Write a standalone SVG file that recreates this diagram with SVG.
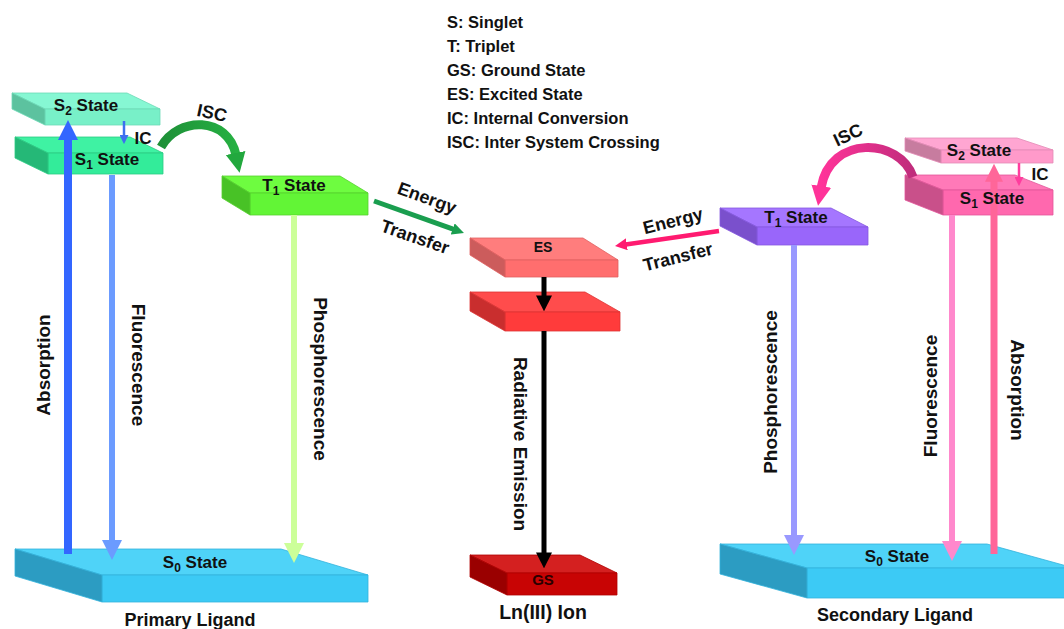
<svg xmlns="http://www.w3.org/2000/svg" width="1064" height="629" viewBox="0 0 1064 629">
<style>
text{font-family:"Liberation Sans",Arial,sans-serif;font-weight:bold;fill:#111}
.st{font-size:17px}
.sub{font-size:12px}
.lg{font-size:16.5px}
.vl{font-size:19px}
.et{font-size:18px}
.ft{font-size:18px}
.ed{stroke-width:0.8;stroke-linejoin:round}
</style>
<defs>
<marker id="hAbsL" viewBox="0 0 10 10" refX="1" refY="5" markerWidth="20" markerHeight="20" markerUnits="userSpaceOnUse" orient="auto"><path d="M0,0L10,5L0,10z" fill="#3366FF"/></marker>
<marker id="hFluL" viewBox="0 0 10 10" refX="1" refY="5" markerWidth="20" markerHeight="20" markerUnits="userSpaceOnUse" orient="auto"><path d="M0,0L10,5L0,10z" fill="#6B9BFF"/></marker>
<marker id="hPhoL" viewBox="0 0 10 10" refX="1" refY="5" markerWidth="20" markerHeight="20" markerUnits="userSpaceOnUse" orient="auto"><path d="M0,0L10,5L0,10z" fill="#CCFF99"/></marker>
<marker id="hICL" viewBox="0 0 10 10" refX="1" refY="5" markerWidth="9" markerHeight="9" markerUnits="userSpaceOnUse" orient="auto"><path d="M0,0L10,5L0,10z" fill="#3D6FEF"/></marker>
<marker id="hISCL" viewBox="0 0 10 10" refX="1" refY="5" markerWidth="20" markerHeight="22" markerUnits="userSpaceOnUse" orient="auto"><path d="M0,0L10,5L0,10z" fill="#22A83E"/></marker>
<marker id="hETL" viewBox="0 0 10 10" refX="1" refY="5" markerWidth="12" markerHeight="12" markerUnits="userSpaceOnUse" orient="auto"><path d="M0,0L10,5L0,10z" fill="#1A9E4F"/></marker>
<marker id="hBlk" viewBox="0 0 10 10" refX="1" refY="5" markerWidth="16" markerHeight="16" markerUnits="userSpaceOnUse" orient="auto"><path d="M0,0L10,5L0,10z" fill="#000"/></marker>
<marker id="hETR" viewBox="0 0 10 10" refX="1" refY="5" markerWidth="12" markerHeight="12" markerUnits="userSpaceOnUse" orient="auto"><path d="M0,0L10,5L0,10z" fill="#FF1A70"/></marker>
<marker id="hISCR" viewBox="0 0 10 10" refX="1" refY="5" markerWidth="20" markerHeight="22" markerUnits="userSpaceOnUse" orient="auto"><path d="M0,0L10,5L0,10z" fill="#FF3399"/></marker>
<marker id="hICR" viewBox="0 0 10 10" refX="1" refY="5" markerWidth="9" markerHeight="9" markerUnits="userSpaceOnUse" orient="auto"><path d="M0,0L10,5L0,10z" fill="#FF3D9E"/></marker>
<marker id="hPhoR" viewBox="0 0 10 10" refX="1" refY="5" markerWidth="20" markerHeight="20" markerUnits="userSpaceOnUse" orient="auto"><path d="M0,0L10,5L0,10z" fill="#9999FF"/></marker>
<marker id="hFluR" viewBox="0 0 10 10" refX="1" refY="5" markerWidth="20" markerHeight="20" markerUnits="userSpaceOnUse" orient="auto"><path d="M0,0L10,5L0,10z" fill="#FF88CC"/></marker>
<marker id="hAbsR" viewBox="0 0 10 10" refX="1" refY="5" markerWidth="18" markerHeight="18" markerUnits="userSpaceOnUse" orient="auto"><path d="M0,0L10,5L0,10z" fill="#FF6699"/></marker>
<linearGradient id="gISCR" x1="1" y1="0" x2="0" y2="0"><stop offset="0" stop-color="#C02C7C"/><stop offset="1" stop-color="#FF3399"/></linearGradient>
<linearGradient id="gISCL" x1="0" y1="0" x2="1" y2="0"><stop offset="0" stop-color="#1E9038"/><stop offset="1" stop-color="#26B042"/></linearGradient>
</defs>
<rect width="1064" height="629" fill="#fff"/>

<!-- nodes -->
<g id="S2-left">
<polygon class="ed" points="12,93 127,93 160,109 45,109" fill="#86F7D3" stroke="#6CD9B6"/>
<rect class="ed" x="45" y="109" width="115" height="16" fill="#78F0C8" stroke="#6CD9B6"/>
<polygon class="ed" points="12,93 45,109 45,125 12,109" fill="#5CC29F" stroke="#6CD9B6"/>
<text class="st" x="86" y="111" text-anchor="middle">S<tspan class="sub" dy="4">2</tspan><tspan dy="-4"> State</tspan></text>
</g>
<g id="S1-left">
<polygon class="ed" points="15,137 130,137 163,153 48,153" fill="#3FF2A3" stroke="#2CCB84"/>
<rect class="ed" x="48" y="153" width="115" height="21" fill="#33EC9A" stroke="#2CCB84"/>
<polygon class="ed" points="15,137 48,153 48,174 15,158" fill="#25B877" stroke="#2CCB84"/>
<text class="st" x="107" y="165" text-anchor="middle">S<tspan class="sub" dy="4">1</tspan><tspan dy="-4"> State</tspan></text>
</g>
<g id="T1-left">
<polygon class="ed" points="222,176 340,176 368,193 250,193" fill="#6EFC40" stroke="#55D02E"/>
<rect class="ed" x="250" y="193" width="118" height="22" fill="#62F536" stroke="#55D02E"/>
<polygon class="ed" points="222,176 250,193 250,215 222,198" fill="#48C226" stroke="#55D02E"/>
<text class="st" x="294" y="191" text-anchor="middle">T<tspan class="sub" dy="4">1</tspan><tspan dy="-4"> State</tspan></text>
</g>
<g id="ES">
<polygon class="ed" points="470,238 583,238 618,260 505,260" fill="#FF7D7D" stroke="#E06060"/>
<rect class="ed" x="505" y="260" width="113" height="17" fill="#FF6E6E" stroke="#E06060"/>
<polygon class="ed" points="470,238 505,260 505,277 470,255" fill="#CC5C5C" stroke="#E06060"/>
<text x="543" y="252" text-anchor="middle" font-size="14">ES</text>
</g>
<g id="intermediate">
<polygon class="ed" points="470,292 585,292 620,312 505,312" fill="#FF4C4C" stroke="#DD3434"/>
<rect class="ed" x="505" y="312" width="115" height="19" fill="#FF3B3B" stroke="#DD3434"/>
<polygon class="ed" points="470,292 505,312 505,331 470,311" fill="#C92E2E" stroke="#DD3434"/>
</g>
<g id="GS">
<polygon class="ed" points="470,555 580,555 617,573 507,573" fill="#D42020" stroke="#B00000"/>
<rect class="ed" x="507" y="573" width="110" height="22" fill="#C80404" stroke="#B00000"/>
<polygon class="ed" points="470,555 507,573 507,595 470,577" fill="#9A0000" stroke="#B00000"/>
<text x="543" y="585" text-anchor="middle" font-size="15" style="fill:#2a0000">GS</text>
</g>
<g id="S0-left">
<polygon class="ed" points="15,549 281,549 368,575 102,575" fill="#4FD3F8" stroke="#32B2DC"/>
<rect class="ed" x="102" y="575" width="266" height="27" fill="#3CCAF5" stroke="#32B2DC"/>
<polygon class="ed" points="15,549 102,575 102,602 15,576" fill="#2C9CC2" stroke="#32B2DC"/>
<text class="st" x="195" y="568" text-anchor="middle">S<tspan class="sub" dy="4">0</tspan><tspan dy="-4"> State</tspan></text>
</g>
<g id="S0-right">
<polygon class="ed" points="720,544 987,544 1074,568 807,568" fill="#4FD3F8" stroke="#32B2DC"/>
<rect class="ed" x="807" y="568" width="267" height="30" fill="#3CCAF5" stroke="#32B2DC"/>
<polygon class="ed" points="720,544 807,568 807,598 720,574" fill="#2C9CC2" stroke="#32B2DC"/>
<text class="st" x="897" y="562" text-anchor="middle">S<tspan class="sub" dy="4">0</tspan><tspan dy="-4"> State</tspan></text>
</g>
<g id="T1-right">
<polygon class="ed" points="720,208 831,208 868,227 757,227" fill="#A576FF" stroke="#8558E0"/>
<rect class="ed" x="757" y="227" width="111" height="18" fill="#9966FA" stroke="#8558E0"/>
<polygon class="ed" points="720,208 757,227 757,245 720,226" fill="#7A50CC" stroke="#8558E0"/>
<text class="st" x="796" y="223" text-anchor="middle">T<tspan class="sub" dy="4">1</tspan><tspan dy="-4"> State</tspan></text>
</g>
<g id="S2-right">
<polygon class="ed" points="905,138 1017,138 1053,150 941,150" fill="#FFA6D2" stroke="#E38AB6"/>
<rect class="ed" x="941" y="150" width="112" height="13" fill="#FF9ACA" stroke="#E38AB6"/>
<polygon class="ed" points="905,138 941,150 941,163 905,151" fill="#C77C9F" stroke="#E38AB6"/>
<text class="st" x="979" y="156" text-anchor="middle">S<tspan class="sub" dy="4">2</tspan><tspan dy="-4"> State</tspan></text>
</g>
<g id="S1-right">
<polygon class="ed" points="905,175 1015,175 1053,190 943,190" fill="#FF79B8" stroke="#E2579A"/>
<rect class="ed" x="943" y="190" width="110" height="25" fill="#FF68AE" stroke="#E2579A"/>
<polygon class="ed" points="905,175 943,190 943,215 905,200" fill="#C9508A" stroke="#E2579A"/>
</g>

<!-- connectors -->
<g id="connectors" fill="none">
<line x1="68" y1="554" x2="68" y2="138" stroke="#3366FF" stroke-width="8" marker-end="url(#hAbsL)"/>
<line x1="112" y1="175" x2="112" y2="542" stroke="#6B9BFF" stroke-width="6" marker-end="url(#hFluL)"/>
<line x1="124" y1="121" x2="124" y2="136" stroke="#3D6FEF" stroke-width="2.5" marker-end="url(#hICL)"/>
<line x1="294" y1="215" x2="294" y2="545" stroke="#CCFF99" stroke-width="6" marker-end="url(#hPhoL)"/>
<path d="M161,147 C178,116 228,116 236,155" stroke="url(#gISCL)" stroke-width="9" marker-end="url(#hISCL)"/>
<line x1="374" y1="201" x2="453.8" y2="229.4" stroke="#1A9E4F" stroke-width="5" marker-end="url(#hETL)"/>
<line x1="544" y1="277" x2="544" y2="297" stroke="#000" stroke-width="5" marker-end="url(#hBlk)"/>
<line x1="544" y1="331" x2="544" y2="554" stroke="#000" stroke-width="5" marker-end="url(#hBlk)"/>
<line x1="719" y1="231" x2="625.7" y2="244.4" stroke="#FF1A70" stroke-width="4.5" marker-end="url(#hETR)"/>
<path d="M913,177 C900,138 830,134 821,188" stroke="url(#gISCR)" stroke-width="9" marker-end="url(#hISCR)"/>
<line x1="1019" y1="163" x2="1019" y2="178" stroke="#FF3D9E" stroke-width="2.5" marker-end="url(#hICR)"/>
<line x1="794" y1="245" x2="794" y2="537" stroke="#9999FF" stroke-width="6" marker-end="url(#hPhoR)"/>
<line x1="952" y1="215" x2="952" y2="543" stroke="#FF88CC" stroke-width="6" marker-end="url(#hFluR)"/>
<line x1="994" y1="554" x2="994" y2="180" stroke="#FF6699" stroke-width="7" marker-end="url(#hAbsR)"/>
</g>

<g id="S1-right-label">
<text class="st" x="992" y="204" text-anchor="middle">S<tspan class="sub" dy="4">1</tspan><tspan dy="-4"> State</tspan></text>
</g>

<!-- connector labels -->
<g id="connector-labels">
<text class="ft" transform="translate(212,113) rotate(12)" text-anchor="middle" dominant-baseline="central">ISC</text>
<text font-size="17" x="143" y="144" text-anchor="middle">IC</text>
<text class="vl" transform="translate(43,365) rotate(-90)" text-anchor="middle" dominant-baseline="central">Absorption</text>
<text class="vl" transform="translate(138,365) rotate(90)" text-anchor="middle" dominant-baseline="central">Fluorescence</text>
<text class="vl" transform="translate(320,379) rotate(90)" text-anchor="middle" dominant-baseline="central">Phosphorescence</text>
<text class="et" transform="translate(427,198) rotate(20)" text-anchor="middle" dominant-baseline="central">Energy</text>
<text class="et" transform="translate(415,237) rotate(19)" text-anchor="middle" dominant-baseline="central">Transfer</text>
<text class="vl" transform="translate(520,444) rotate(90)" text-anchor="middle" dominant-baseline="central">Radiative Emission</text>
<text class="et" transform="translate(673,221) rotate(-14)" text-anchor="middle" dominant-baseline="central">Energy</text>
<text class="et" transform="translate(678,257) rotate(-14)" text-anchor="middle" dominant-baseline="central">Transfer</text>
<text class="ft" transform="translate(848,135) rotate(-25)" text-anchor="middle" dominant-baseline="central">ISC</text>
<text font-size="17" x="1040" y="180" text-anchor="middle">IC</text>
<text class="vl" transform="translate(770,392) rotate(-90)" text-anchor="middle" dominant-baseline="central">Phosphorescence</text>
<text class="vl" transform="translate(930,396) rotate(-90)" text-anchor="middle" dominant-baseline="central">Fluorescence</text>
<text class="vl" transform="translate(1017,390) rotate(90)" text-anchor="middle" dominant-baseline="central">Absorption</text>
</g>

<!-- captions and legend -->
<g id="captions">
<text font-size="18" x="190" y="626" text-anchor="middle">Primary Ligand</text>
<text font-size="19.5" x="543" y="619" text-anchor="middle">Ln(III) Ion</text>
<text font-size="18" x="895" y="621" text-anchor="middle">Secondary Ligand</text>
</g>
<g id="legend">
<text class="lg" x="447" y="28">S: Singlet</text>
<text class="lg" x="447" y="52">T: Triplet</text>
<text class="lg" x="447" y="76">GS: Ground State</text>
<text class="lg" x="447" y="100">ES: Excited State</text>
<text class="lg" x="447" y="124">IC: Internal Conversion</text>
<text class="lg" x="447" y="148">ISC: Inter System Crossing</text>
</g>
</svg>
